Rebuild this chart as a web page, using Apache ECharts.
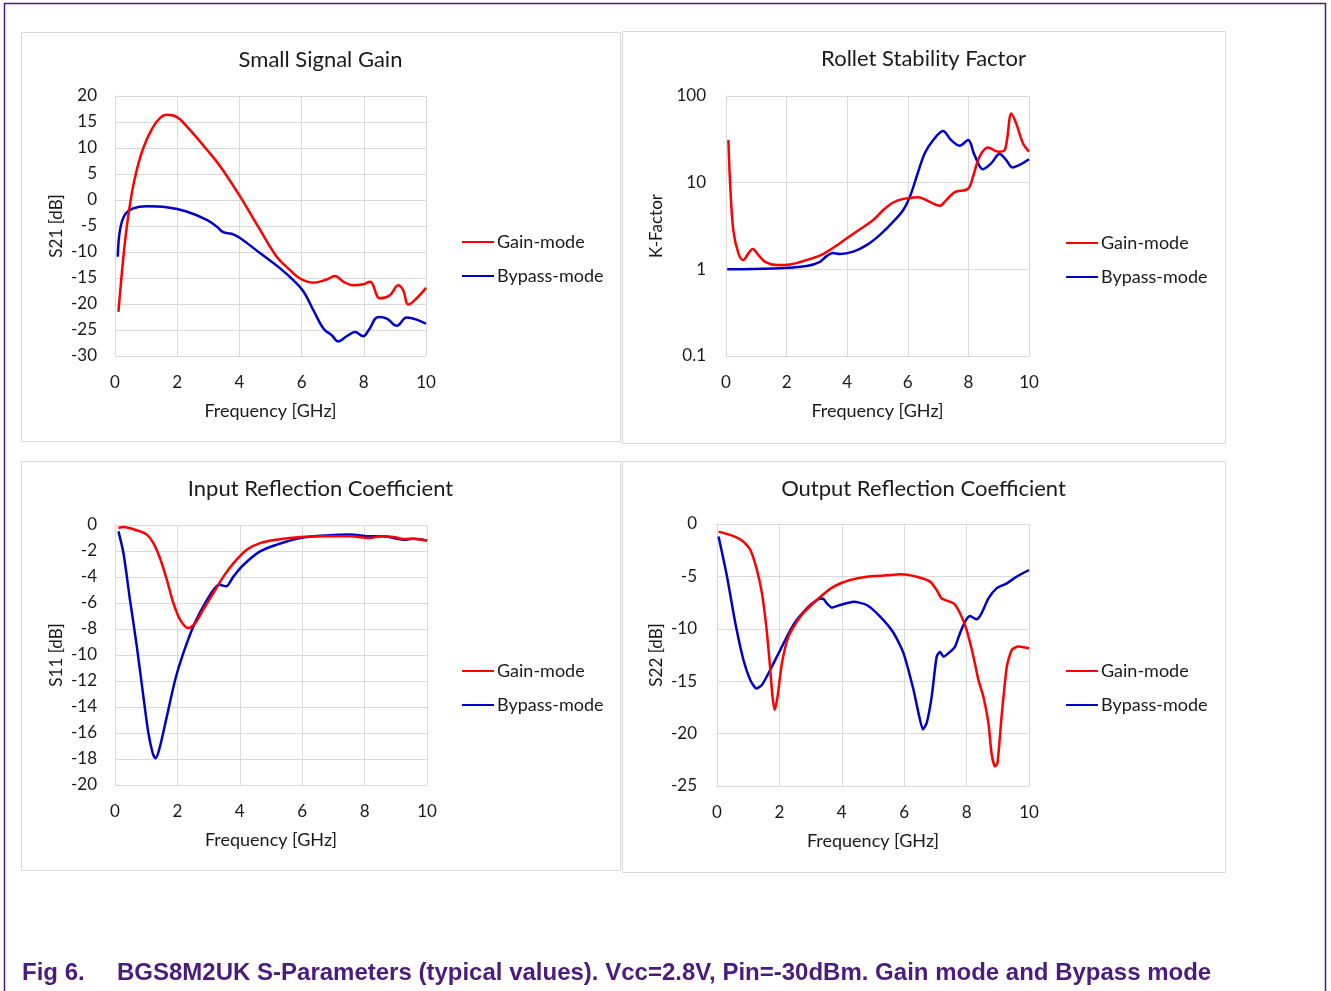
<!DOCTYPE html>
<html>
<head>
<meta charset="utf-8">
<script src="https://cdn.jsdelivr.net/npm/echarts@6/dist/echarts.min.js"></script>
<style>
html,body{margin:0;padding:0;background:#fff;}
#c{width:1331px;height:991px;}
</style>
</head>
<body>
<div id="c"></div>
<script>
// ---------- DATA ----------
const seriesNames = ['Gain-mode', 'Bypass-mode'];
const panelTitles = ['Small Signal Gain', 'Rollet Stability Factor', 'Input Reflection Coefficient', 'Output Reflection Coefficient'];
const yAxisNames = ['S21 [dB]', 'K-Factor', 'S11 [dB]', 'S22 [dB]'];
const xAxisName = 'Frequency [GHz]';
const caption1 = 'Fig 6.';
const caption2 = 'BGS8M2UK S-Parameters (typical values). Vcc=2.8V, Pin=-30dBm. Gain mode and Bypass mode';

// S21 gain mode
const s21GainF = [0.11,0.27,0.38,0.54,0.7,0.91,1.18,1.45,1.66,1.98,2.3,2.95,3.38,4.02,4.66,5.2,5.63,5.95,6.38,6.8,7.07,7.34,7.66,7.98,8.2,8.52,8.84,9.11,9.27,9.43,9.7,10];
const s21GainV = [-21.5,-10.9,-5.1,1.3,5.8,10,13.6,15.8,16.4,16.0,14.2,9.7,6.5,0.7,-5.7,-10.9,-13.5,-15.1,-15.9,-15.3,-14.6,-15.7,-16.4,-16.2,-15.7,-18.9,-18.3,-16.4,-17.4,-20.1,-18.9,-16.9];
// S21 bypass mode
const s21BypF = [0.09,0.16,0.32,0.59,1.02,1.66,2.3,2.95,3.27,3.48,3.75,4.02,4.66,5.3,5.73,6.06,6.38,6.7,6.97,7.18,7.45,7.72,7.98,8.15,8.47,8.74,9.06,9.38,9.7,10];
const s21BypV = [-10.9,-5.8,-2.8,-1.6,-1.2,-1.4,-2.2,-3.8,-5.1,-6.2,-6.5,-7.3,-10.2,-13.1,-15.4,-17.6,-21.2,-24.7,-26.0,-27.2,-26.2,-25.4,-26.2,-25.1,-22.5,-22.8,-24.2,-22.6,-23.0,-23.8];

// K-factor gain mode
const kGainF = [0.08,0.13,0.24,0.41,0.57,0.74,0.88,1.07,1.29,1.67,2.11,2.66,3.2,3.76,4.3,4.86,5.19,5.52,5.85,6.34,6.73,7.05,7.27,7.55,7.99,8.15,8.37,8.65,8.98,9.2,9.42,9.58,9.8,10];
const kGainV = [31,10.8,2.85,1.53,1.28,1.53,1.72,1.46,1.22,1.12,1.14,1.28,1.5,2.0,2.72,3.7,4.84,5.9,6.5,6.8,6.0,5.4,6.3,7.8,8.5,11.7,20,25.4,22.8,23.8,63,48,28.5,22.8];
// K-factor bypass mode
const kBypF = [0.04,1.56,2.66,3.1,3.32,3.52,3.76,4.2,4.64,5.08,5.52,5.85,6.07,6.29,6.56,6.84,7.16,7.43,7.71,7.99,8.2,8.48,8.75,9.03,9.25,9.45,9.69,10];
const kBypV = [1.0,1.02,1.09,1.22,1.42,1.54,1.5,1.6,1.9,2.5,3.55,4.84,6.9,11.7,21.8,31,39.5,31,26.7,31,20.9,14.3,16.7,21.4,18.2,15,16,18.6];

// S11 gain mode
const s11GainF = [0.11,0.27,0.7,1.02,1.23,1.44,1.66,1.87,2.09,2.35,2.57,2.83,3.16,3.48,3.8,4.22,4.65,5.19,5.94,6.79,7.54,8.18,8.5,8.93,9.25,9.57,10];
const s11GainV = [-0.23,-0.15,-0.41,-0.74,-1.39,-2.54,-4.2,-6.0,-7.3,-7.93,-7.55,-6.5,-5.2,-3.95,-2.93,-1.9,-1.39,-1.13,-0.92,-0.87,-0.87,-1.0,-0.87,-0.92,-1.08,-1.05,-1.2];
// S11 bypass mode
const s11BypF = [0.11,0.27,0.48,0.7,0.91,1.07,1.21,1.3,1.44,1.66,1.93,2.19,2.51,2.83,3.16,3.35,3.56,3.8,4.12,4.65,5.19,5.94,6.79,7.54,8.18,8.61,9.25,9.57,10];
const s11BypV = [-0.49,-2.16,-5.75,-9.35,-13.2,-16.0,-17.56,-17.95,-17.05,-14.74,-11.9,-9.86,-7.8,-6.26,-4.98,-4.6,-4.72,-3.95,-3.06,-2.03,-1.51,-1.0,-0.8,-0.74,-0.87,-0.87,-1.13,-1.05,-1.2];

// S22 gain mode
const s22GainF = [0.05,0.53,0.85,1.07,1.28,1.44,1.58,1.69,1.78,1.85,1.94,2.08,2.29,2.67,3.2,3.74,4.27,4.8,5.44,5.87,6.4,6.83,7.04,7.2,7.58,7.79,8.0,8.22,8.38,8.54,8.7,8.8,8.91,8.99,9.12,9.29,9.45,9.66,10];
const s22GainV = [-0.73,-1.15,-1.69,-2.48,-4.39,-6.6,-9.8,-13.3,-16.5,-17.75,-16.5,-13.3,-10.75,-8.84,-7.25,-5.98,-5.34,-5.03,-4.9,-4.8,-5.03,-5.5,-6.3,-7.1,-7.57,-8.52,-10.1,-12.66,-14.9,-16.5,-19.0,-21.9,-23.15,-22.8,-18.4,-13.6,-12.0,-11.7,-11.86];
// S22 bypass mode
const s22BypF = [0.05,0.32,0.59,0.85,1.07,1.26,1.44,1.71,2.03,2.45,2.88,3.2,3.39,3.52,3.68,3.95,4.38,4.8,5.23,5.66,5.98,6.3,6.46,6.6,6.72,6.88,7.04,7.15,7.26,7.47,7.63,7.79,7.95,8.11,8.32,8.48,8.7,8.96,9.29,9.6,10];
const s22BypV = [-1.2,-5.0,-9.5,-13.0,-14.9,-15.7,-15.36,-13.9,-12.0,-9.6,-8.05,-7.25,-7.1,-7.57,-7.98,-7.73,-7.41,-7.73,-8.84,-10.4,-12.34,-15.84,-18.07,-19.6,-19.0,-16.5,-12.66,-12.2,-12.66,-12.2,-11.7,-10.4,-9.32,-8.78,-9.1,-8.52,-7.1,-6.14,-5.66,-5.03,-4.39];

// axis ranges
const yMins = [-30, 0.1, -20, -25];
const yMaxs = [20, 100, 0, 0];
const yIntervals = [5, null, 2, 5];

// ---------- CHART ----------
const zip = (f, v) => f.map((x, i) => [x, v[i]]);
const FONT = 'Lato';
const TXT = '#1a1a1a';
const RED = '#ff0000';
const BLUE = '#0000c8';

const grids = [
  {left: 115, top: 96, width: 311, height: 260},
  {left: 726, top: 96, width: 303, height: 260},
  {left: 115, top: 525, width: 312, height: 260},
  {left: 717, top: 524, width: 312, height: 262}
];
const panels = [
  {x: 21.5, y: 32.5, w: 599, h: 409},
  {x: 622.5, y: 31.5, w: 603, h: 412},
  {x: 21.5, y: 461.5, w: 599, h: 409},
  {x: 622.5, y: 461.5, w: 603, h: 411}
];
const titleCenters = [[320.5, 49], [923.5, 48], [320.5, 478], [923.5, 478]];
const legendPos = [[462, 232], [1066, 233], [462, 661], [1066, 661]];
const yNameGaps = [50, 61, 50, 52];
const yLabelMargins = [18, 20, 18, 20];

const xAxes = grids.map((g, i) => ({
  type: 'value', gridIndex: i, min: 0, max: 10, interval: 2,
  name: xAxisName, nameLocation: 'middle', nameGap: 46,
  nameTextStyle: {fontFamily: FONT, fontSize: 18, color: TXT},
  axisLine: {show: true, lineStyle: {color: '#d9d9d9', width: 1}},
  axisTick: {show: false},
  axisLabel: {fontFamily: FONT, fontSize: 17, color: TXT, margin: 18},
  splitLine: {show: true, lineStyle: {color: '#d9d9d9', width: 1}}
}));

const yAxes = grids.map((g, i) => {
  const a = {
    type: i === 1 ? 'log' : 'value', gridIndex: i, min: yMins[i], max: yMaxs[i],
    name: yAxisNames[i], nameLocation: 'middle', nameGap: yNameGaps[i], nameRotate: 90,
    nameTextStyle: {fontFamily: FONT, fontSize: 17, color: TXT},
    axisLine: {show: true, lineStyle: {color: '#d9d9d9', width: 1}},
    axisTick: {show: false},
    axisLabel: {fontFamily: FONT, fontSize: 17, color: TXT, margin: yLabelMargins[i]},
    splitLine: {show: true, lineStyle: {color: '#d9d9d9', width: 1}}
  };
  if (i === 1) { a.logBase = 10; a.axisLabel.formatter = v => String(+v.toPrecision(3)); }
  else a.interval = yIntervals[i];
  return a;
});

const dataSets = [
  [zip(s21GainF, s21GainV), zip(s21BypF, s21BypV)],
  [zip(kGainF, kGainV), zip(kBypF, kBypV)],
  [zip(s11GainF, s11GainV), zip(s11BypF, s11BypV)],
  [zip(s22GainF, s22GainV), zip(s22BypF, s22BypV)]
];
const smooths = [0.4, 0.35, 0.3, 0.2];

const series = [];
dataSets.forEach((pair, i) => {
  pair.forEach((d, j) => {
    series.push({
      type: 'line', name: seriesNames[j], xAxisIndex: i, yAxisIndex: i,
      data: d, smooth: smooths[i], symbol: 'none', showSymbol: false,
      lineStyle: {color: j === 0 ? RED : BLUE, width: 2.5},
      itemStyle: {color: j === 0 ? RED : BLUE},
      z: j === 0 ? 3 : 2, animation: false
    });
  });
});

const titles = panelTitles.map((t, i) => ({
  text: t, left: titleCenters[i][0], top: titleCenters[i][1], textAlign: 'center', padding: 0,
  textStyle: {fontFamily: FONT, fontSize: 22, fontWeight: 'normal', color: TXT}
}));

const legends = legendPos.map(p => ({
  data: seriesNames, orient: 'vertical', left: p[0], top: p[1], padding: 0,
  icon: 'rect', itemWidth: 32, itemHeight: 2, itemGap: 14,
  textStyle: {fontFamily: FONT, fontSize: 18, color: TXT, lineHeight: 20, padding: [0, 0, 0, -2]},
  selectedMode: false
}));

const graphics = [];
panels.forEach(p => graphics.push({
  type: 'rect', shape: {x: p.x, y: p.y, width: p.w, height: p.h},
  style: {fill: 'none', stroke: '#d9d9d9', lineWidth: 1}, z: -1, silent: true
}));
const PURPLE = '#4b1c7c';
graphics.push({type: 'line', shape: {x1: 4, y1: 3.5, x2: 1326, y2: 3.5}, style: {stroke: PURPLE, lineWidth: 1.5}, silent: true});
graphics.push({type: 'line', shape: {x1: 4.5, y1: 3, x2: 4.5, y2: 991}, style: {stroke: PURPLE, lineWidth: 1.5}, silent: true});
graphics.push({type: 'line', shape: {x1: 1325.5, y1: 3, x2: 1325.5, y2: 991}, style: {stroke: PURPLE, lineWidth: 1.5}, silent: true});
graphics.push({type: 'text', x: 22, y: 973, style: {text: caption1, font: 'bold 24px "Liberation Sans"', fill: PURPLE, textVerticalAlign: 'middle'}, silent: true});
graphics.push({type: 'text', x: 117, y: 973, style: {text: caption2, font: 'bold 24px "Liberation Sans"', fill: PURPLE, textVerticalAlign: 'middle'}, silent: true});

const chart = echarts.init(document.getElementById('c'), null, {renderer: 'canvas'});
chart.setOption({
  animation: false,
  backgroundColor: '#fff',
  title: titles,
  legend: legends,
  grid: grids,
  xAxis: xAxes,
  yAxis: yAxes,
  series: series,
  graphic: graphics
});
</script>
</body>
</html>
